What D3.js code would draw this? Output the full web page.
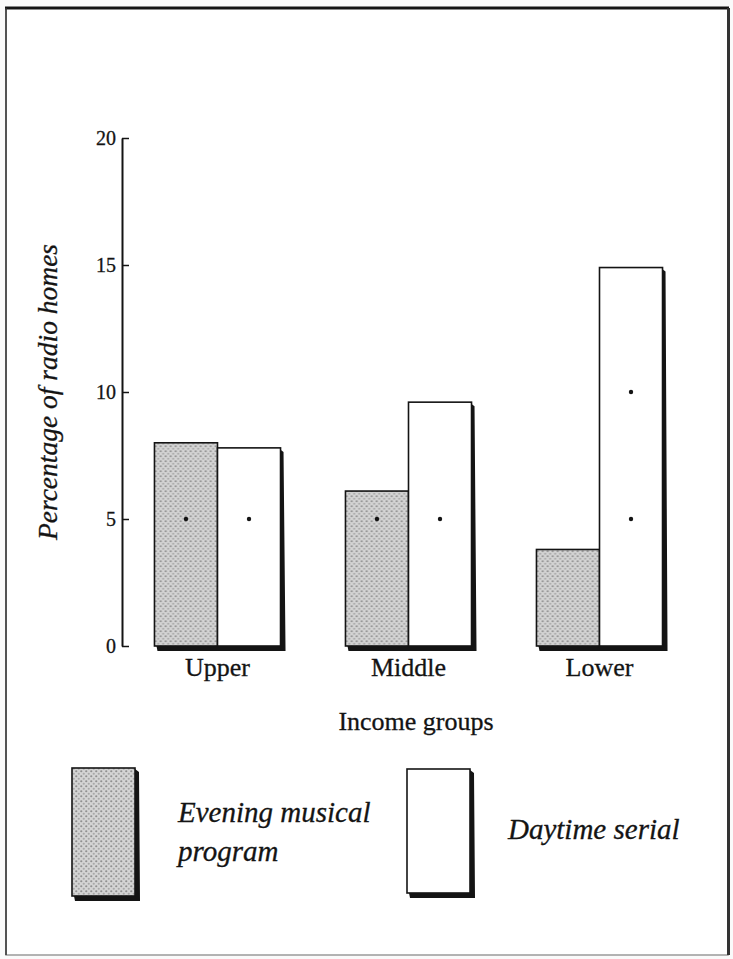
<!DOCTYPE html>
<html>
<head>
<meta charset="utf-8">
<script src="https://cdn.jsdelivr.net/npm/d3@7"></script>
<style>
  body { margin: 0; background: #fafafa; }
</style>
</head>
<body>
<div id="chart"></div>
<script>
var width = 733, height = 959;

// data
var groups = ["Upper", "Middle", "Lower"];
var evening = [8.0, 6.1, 3.8];
var daytime = [7.8, 9.6, 14.9];
var series = ["Evening musical program", "Daytime serial"];
var yTicks = [0, 5, 10, 15, 20];
var markValues = [5, 10]; // registration dots printed inside the bars

var ink = "#141414";
var serif = "'Liberation Serif', 'DejaVu Serif', serif";

var svg = d3.select("#chart").append("svg")
    .attr("width", width)
    .attr("height", height)
    .attr("font-family", serif);

// halftone fill for the evening bars
var defs = svg.append("defs");
var pat = defs.append("pattern")
    .attr("id", "halftone")
    .attr("patternUnits", "userSpaceOnUse")
    .attr("width", 5).attr("height", 5);
pat.append("rect").attr("width", 5).attr("height", 5).attr("fill", "#d4d4d4");
pat.append("circle").attr("cx", 1.25).attr("cy", 1.25).attr("r", 1.1).attr("fill", "#909090");
pat.append("circle").attr("cx", 3.75).attr("cy", 3.75).attr("r", 1.1).attr("fill", "#a8a8a8");

// page frame
svg.append("rect")
    .attr("x", 6).attr("y", 8)
    .attr("width", 722).attr("height", 947)
    .attr("fill", "#ffffff")
    .attr("stroke", "#9a9a9a").attr("stroke-width", 1.5);
svg.append("line").attr("x1", 5).attr("x2", 729).attr("y1", 8).attr("y2", 8)
    .attr("stroke", ink).attr("stroke-width", 3);
svg.append("line").attr("x1", 6).attr("x2", 6).attr("y1", 8).attr("y2", 955)
    .attr("stroke", "#333").attr("stroke-width", 1.5);
svg.append("line").attr("x1", 728.5).attr("x2", 728.5).attr("y1", 8).attr("y2", 955)
    .attr("stroke", "#333").attr("stroke-width", 3);

var y = d3.scaleLinear().domain([0, 20]).range([646, 138]);
var x = d3.scaleBand().domain(groups).range([122, 695])
    .paddingInner(0.34).paddingOuter(0.17);
var xs = d3.scaleBand().domain(series).range([0, x.bandwidth()]);

// y axis
var yAxis = d3.axisLeft(y)
    .tickValues(yTicks)
    .tickSizeInner(-7)
    .tickSizeOuter(0)
    .tickPadding(6);
var gy = svg.append("g")
    .attr("transform", "translate(122,0)")
    .call(yAxis)
    .attr("font-family", serif);
gy.select(".domain").attr("stroke", ink).attr("stroke-width", 2);
gy.selectAll(".tick line").attr("stroke", ink).attr("stroke-width", 1.5);
gy.selectAll(".tick text")
    .attr("font-size", 20)
    .attr("fill", ink)
    .attr("stroke", ink).attr("stroke-width", 0.3);

svg.append("text")
    .attr("transform", "translate(57," + y(10) + ") rotate(-90)")
    .attr("text-anchor", "middle")
    .attr("font-size", 27.5)
    .attr("font-style", "italic")
    .attr("fill", ink)
    .attr("stroke", ink).attr("stroke-width", 0.3)
    .text("Percentage of radio homes");

// bars
var rows = groups.map(function(g, i) {
  return { group: g, values: [
    { key: series[0], value: evening[i] },
    { key: series[1], value: daytime[i] }
  ] };
});

var shadow = 5;
var grp = svg.selectAll(".group").data(rows).enter().append("g")
    .attr("class", "group")
    .attr("transform", function(d) { return "translate(" + x(d.group) + ",0)"; });

// drop shadow: right of the daytime bar and under both bars
grp.append("path")
    .attr("fill", ink)
    .attr("d", function(d) {
      var x0 = xs(series[0]), x1 = xs(series[1]) + xs.bandwidth();
      var top = y(d.values[1].value), base = y(0);
      return "M" + (x0 + 2) + "," + base +
        "L" + (x1 - 1) + "," + base +
        "L" + (x1 - 1) + "," + (top + 1) +
        "L" + (x1 + shadow - 2) + "," + (top + 4) +
        "L" + (x1 + shadow) + "," + (base + shadow) +
        "L" + (x0 + 3) + "," + (base + shadow) + "Z";
    });

grp.selectAll("rect.bar").data(function(d) { return d.values; }).enter().append("rect")
    .attr("class", "bar")
    .attr("x", function(d) { return xs(d.key); })
    .attr("y", function(d) { return y(d.value); })
    .attr("width", xs.bandwidth())
    .attr("height", function(d) { return y(0) - y(d.value); })
    .attr("fill", function(d) { return d.key === series[0] ? "url(#halftone)" : "#ffffff"; })
    .attr("stroke", ink)
    .attr("stroke-width", 1.6);

grp.selectAll("circle.mark")
    .data(function(d) {
      var out = [];
      d.values.forEach(function(v) {
        markValues.forEach(function(m) {
          if (m < v.value) out.push({ key: v.key, value: m });
        });
      });
      return out;
    })
    .enter().append("circle")
    .attr("class", "mark")
    .attr("cx", function(d) { return xs(d.key) + xs.bandwidth() / 2; })
    .attr("cy", function(d) { return y(d.value); })
    .attr("r", 2.2)
    .attr("fill", ink);

// category labels
svg.selectAll(".cat").data(groups).enter().append("text")
    .attr("class", "cat")
    .attr("x", function(d) { return x(d) + x.bandwidth() / 2; })
    .attr("y", 676)
    .attr("text-anchor", "middle")
    .attr("font-size", 26)
    .attr("fill", ink)
    .attr("stroke", ink).attr("stroke-width", 0.3)
    .text(function(d) { return d; });

svg.append("text")
    .attr("x", 416).attr("y", 730)
    .attr("text-anchor", "middle")
    .attr("font-size", 26)
    .attr("fill", ink)
    .attr("stroke", ink).attr("stroke-width", 0.3)
    .text("Income groups");

// legend
var legend = [
  { key: series[0], x: 72, y: 768, h: 128, fill: "url(#halftone)", lines: ["Evening musical", "program"], tx: 178, ty: 822 },
  { key: series[1], x: 407, y: 769, h: 124, fill: "#ffffff", lines: ["Daytime serial"], tx: 508, ty: 839 }
];
var lg = svg.selectAll(".legend").data(legend).enter().append("g").attr("class", "legend");
lg.append("path")
    .attr("fill", ink)
    .attr("d", function(d) {
      var r = d.x + 63, b = d.y + d.h;
      return "M" + (d.x + 2) + "," + b + "L" + r + "," + b + "L" + r + "," + (d.y + 1) +
        "L" + (r + shadow - 1) + "," + (d.y + 4) + "L" + (r + shadow) + "," + (b + shadow) +
        "L" + (d.x + 3) + "," + (b + shadow) + "Z";
    });
lg.append("rect")
    .attr("x", function(d) { return d.x; })
    .attr("y", function(d) { return d.y; })
    .attr("width", 63)
    .attr("height", function(d) { return d.h; })
    .attr("fill", function(d) { return d.fill; })
    .attr("stroke", ink).attr("stroke-width", 1.6);
lg.each(function(d) {
  var t = d3.select(this).append("text")
      .attr("font-size", 29)
      .attr("font-style", "italic")
      .attr("fill", ink)
      .attr("stroke", ink).attr("stroke-width", 0.3);
  d.lines.forEach(function(line, i) {
    t.append("tspan").attr("x", d.tx).attr("y", d.ty + i * 39).text(line);
  });
});
</script>
</body>
</html>
